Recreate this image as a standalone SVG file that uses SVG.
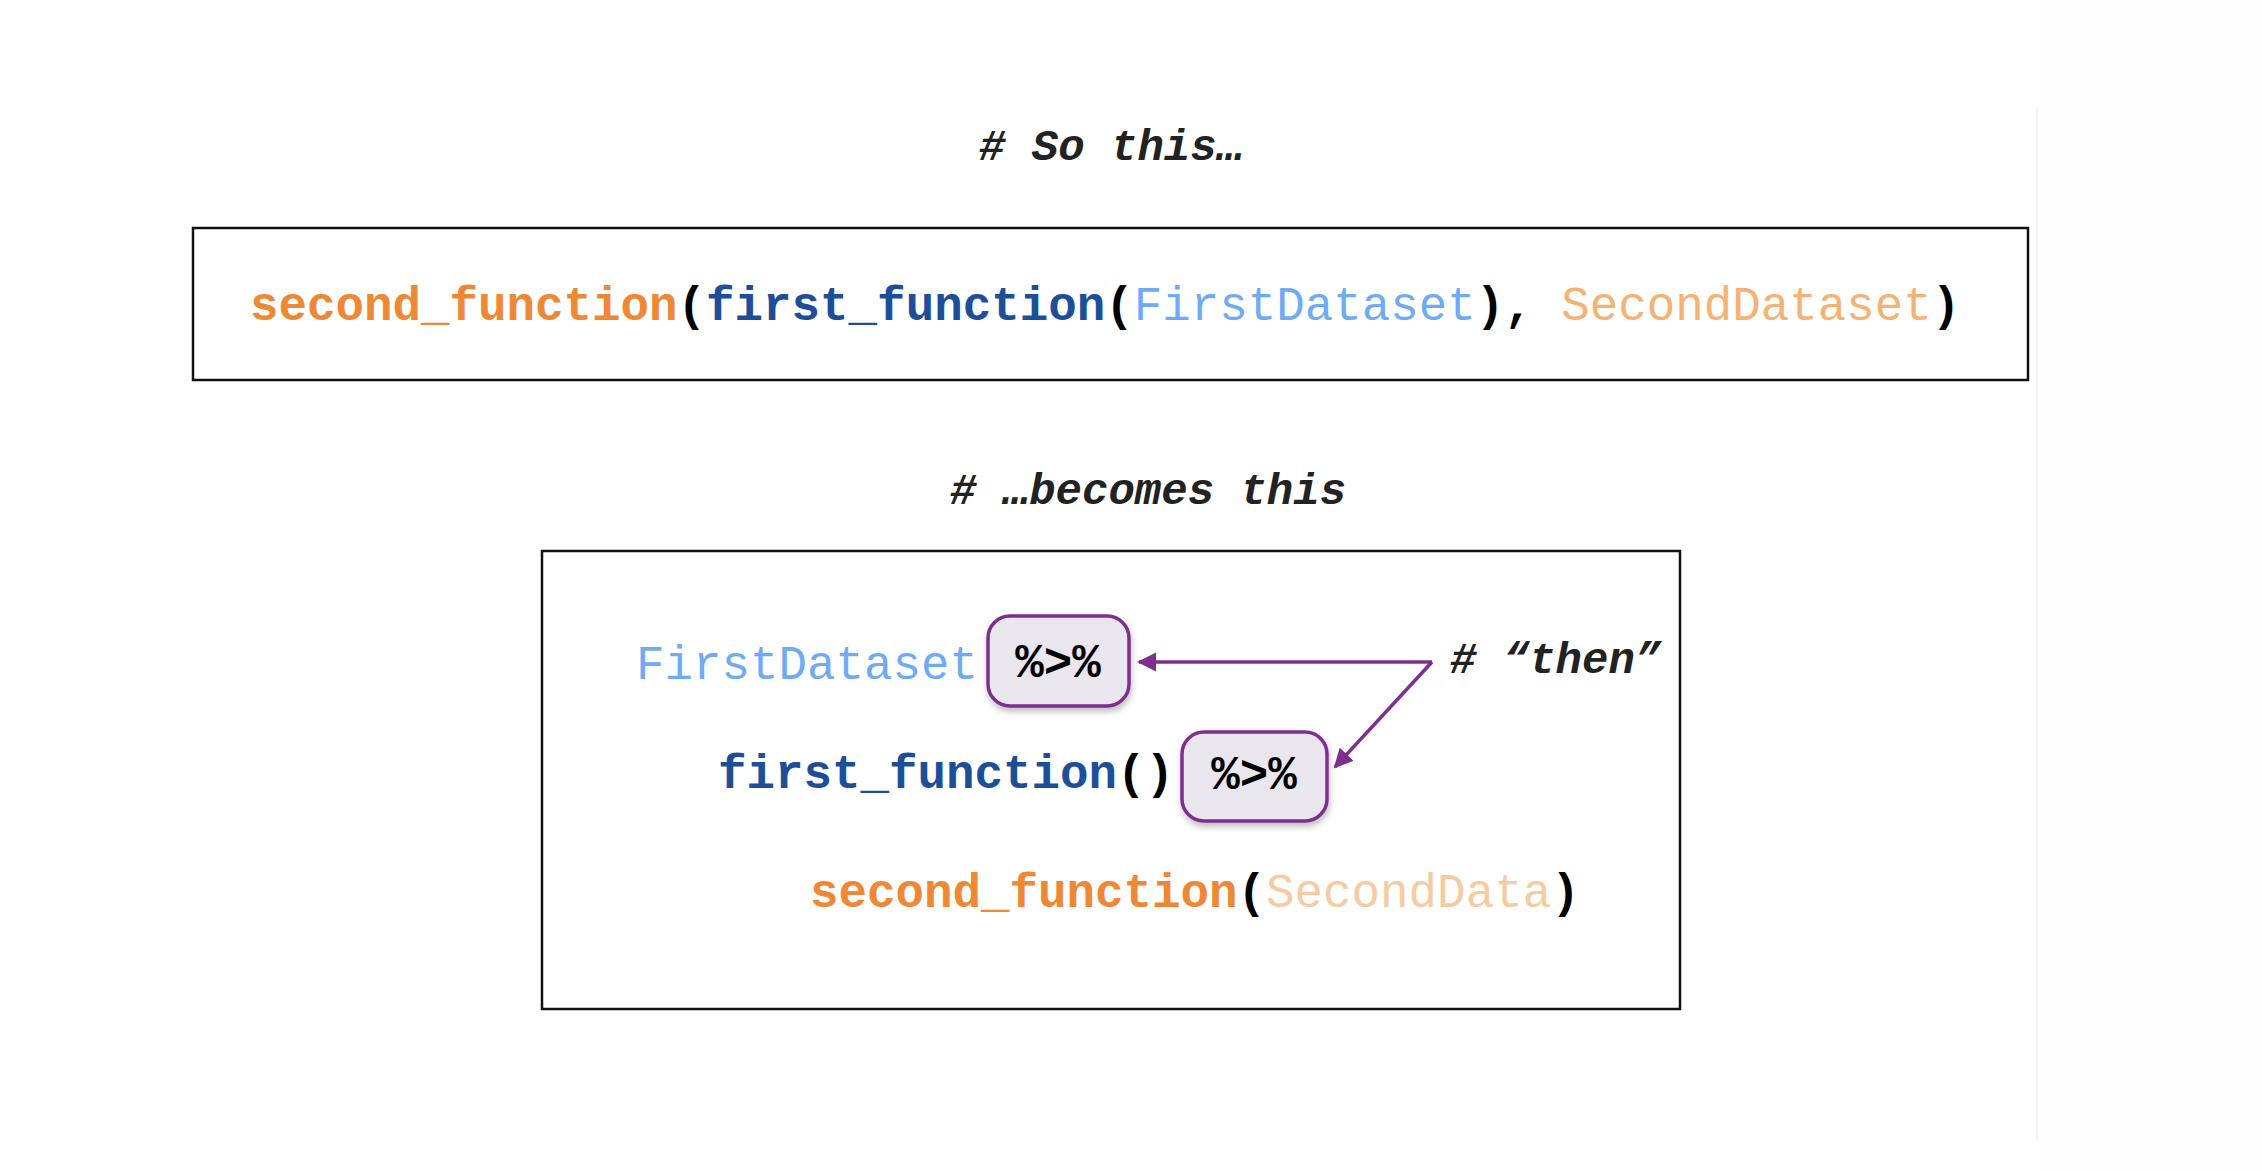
<svg xmlns="http://www.w3.org/2000/svg" width="2262" height="1171" viewBox="0 0 2262 1171">
  <style>
    .code { font-family: "Liberation Mono", "Courier New", monospace; font-size: 47.5px; }
    .b { font-weight: bold; }
    .cmt { font-family: "Liberation Mono", "Courier New", monospace; font-size: 44px; font-weight: bold; font-style: italic; fill: #222; }
    .orange { fill: #EF8834; }
    .dblue { fill: #1D4F99; }
    .lblue { fill: #6FABF4; }
    .lorange { fill: #F4B373; }
    .porange { fill: #F7CB9F; }
    .blk { fill: #000; }
    .frame { fill: none; stroke: #111; stroke-width: 2.5; }
    .pipe { fill: #EAE6EE; stroke: #7E2F8E; stroke-width: 3.5; }
    .conn { fill: none; stroke: #7E2F8E; stroke-width: 3.5; }
  </style>
  <defs>
    <marker id="arrow" viewBox="0 0 10 10" refX="9" refY="5" markerWidth="5.5" markerHeight="5.5" orient="auto" markerUnits="strokeWidth">
      <path d="M0,0 L10,5 L0,10 z" fill="#7E2F8E"/>
    </marker>
    <filter id="shadow" x="-10%" y="-10%" width="130%" height="140%">
      <feDropShadow dx="1" dy="4" stdDeviation="3" flood-color="#000" flood-opacity="0.25"/>
    </filter>
  </defs>
  <rect x="0" y="0" width="2262" height="1171" fill="#fff"/>
  <rect x="2037" y="0" width="225" height="1171" fill="#fefefe"/>
  <line x1="2037" y1="107" x2="2037" y2="1140" stroke="#f3f3f3" stroke-width="2"/>

  <g id="heading-top">
    <text class="cmt" x="979" y="160"># So this…</text>
  </g>

  <g id="original-code">
    <rect class="frame" x="193" y="228" width="1835" height="152"/>
    <text class="code b" x="250" y="320"><tspan class="orange">second_function</tspan><tspan class="blk">(</tspan><tspan class="dblue">first_function</tspan><tspan class="blk">(</tspan><tspan class="lblue" font-weight="normal">FirstDataset</tspan><tspan class="blk">), </tspan><tspan class="lorange" font-weight="normal">SecondDataset</tspan><tspan class="blk">)</tspan></text>
  </g>

  <g id="heading-bottom">
    <text class="cmt" x="950" y="504"># …becomes this</text>
  </g>

  <g id="piped-code">
    <rect class="frame" x="542" y="551" width="1138" height="458"/>
  </g>

  <g id="line-first-dataset">
    <text class="code lblue" x="636" y="679">FirstDataset</text>
  </g>

  <g id="pipe-1">
    <rect class="pipe" x="988" y="616" width="141" height="90" rx="22" ry="22" filter="url(#shadow)"/>
    <text class="code b blk" x="1058" y="677" text-anchor="middle">%&gt;%</text>
  </g>

  <g id="line-first-function">
    <text class="code b" x="718" y="788"><tspan class="dblue">first_function</tspan><tspan class="blk">()</tspan></text>
  </g>

  <g id="pipe-2">
    <rect class="pipe" x="1182" y="732" width="145" height="89" rx="22" ry="22" filter="url(#shadow)"/>
    <text class="code b blk" x="1254" y="789" text-anchor="middle">%&gt;%</text>
  </g>

  <g id="line-second-function">
    <text class="code b" x="810" y="907"><tspan class="orange">second_function</tspan><tspan class="blk">(</tspan><tspan class="porange" font-weight="normal">SecondData</tspan><tspan class="blk">)</tspan></text>
  </g>

  <g id="then-label">
    <text class="cmt" x="1450" y="673"># “then”</text>
  </g>

  <g id="connectors">
    <path class="conn" d="M1432,662 L1139,662" marker-end="url(#arrow)"/>
    <path class="conn" d="M1432,662 L1335,767" marker-end="url(#arrow)"/>
  </g>
</svg>
